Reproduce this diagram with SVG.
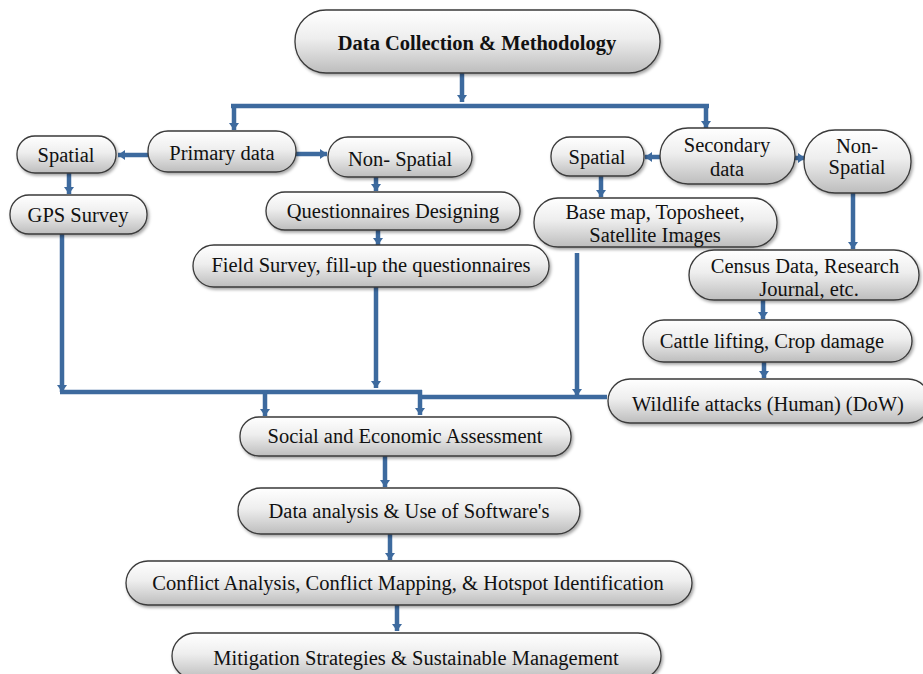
<svg xmlns="http://www.w3.org/2000/svg" width="923" height="674" viewBox="0 0 923 674">
<defs>
<linearGradient id="g" x1="0" y1="0" x2="0" y2="1">
<stop offset="0" stop-color="#ffffff"/>
<stop offset="0.45" stop-color="#eeeeee"/>
<stop offset="1" stop-color="#bdbdbd"/>
</linearGradient>
<filter id="sh" x="-10%" y="-20%" width="120%" height="150%">
<feDropShadow dx="1.5" dy="2" stdDeviation="1.5" flood-color="#000" flood-opacity="0.35"/>
</filter>
<marker id="ah" markerUnits="userSpaceOnUse" markerWidth="12" markerHeight="12" refX="7" refY="5" orient="auto">
<path d="M0,0 L7,5 L0,10 Z" fill="#3d6a9e"/>
</marker>
</defs>
<style>
.n rect{fill:url(#g);stroke:#3a3a3a;stroke-width:1.3;filter:url(#sh)}
.n text{font-size:20.5px;fill:#111;text-anchor:middle;dominant-baseline:central}
.c line,.c path{stroke:#3d6a9e;stroke-width:4.5;fill:none}
.a{marker-end:url(#ah)}
</style>
<rect width="923" height="674" fill="#ffffff"/>
<g class="c">
<line class="a" x1="462" y1="73" x2="462" y2="102"/>
<line x1="231" y1="106" x2="709" y2="106"/>
<line class="a" x1="234" y1="104" x2="234" y2="130"/>
<line class="a" x1="706" y1="104" x2="706" y2="128"/>
<line class="a" x1="148" y1="155" x2="118" y2="155"/>
<line class="a" x1="296" y1="154" x2="327" y2="154"/>
<line class="a" x1="69" y1="173" x2="69" y2="194"/>
<line class="a" x1="376" y1="177" x2="376" y2="191"/>
<line class="a" x1="378" y1="230" x2="378" y2="245"/>
<line class="a" x1="660" y1="157" x2="645" y2="157"/>
<line class="a" x1="795" y1="158" x2="805" y2="158"/>
<line class="a" x1="601" y1="176" x2="601" y2="197"/>
<line class="a" x1="853" y1="193" x2="853" y2="249"/>
<line class="a" x1="763" y1="300" x2="763" y2="319"/>
<line class="a" x1="764" y1="362" x2="764" y2="378"/>
<line class="a" x1="62" y1="234" x2="62" y2="392"/>
<line x1="60" y1="392" x2="422" y2="392"/>
<line class="a" x1="376" y1="287" x2="376" y2="388"/>
<line class="a" x1="577" y1="253" x2="577" y2="396"/>
<line x1="418" y1="397" x2="607" y2="397"/>
<line class="a" x1="265" y1="390" x2="265" y2="416"/>
<line class="a" x1="420" y1="390" x2="420" y2="415"/>
<line class="a" x1="385" y1="456" x2="385" y2="487"/>
<line class="a" x1="390" y1="534" x2="390" y2="560"/>
<line class="a" x1="397" y1="605" x2="397" y2="631"/>
</g>
<g font-family="Liberation Serif, Times New Roman, serif">
<g id="n-top" class="n"><rect x="295" y="10" width="365" height="63" rx="31"/><text x="477" y="43" font-weight="bold">Data Collection &amp; Methodology</text></g>
<g id="n-primary" class="n"><rect x="148" y="131" width="148" height="41" rx="20"/><text x="222" y="153">Primary data</text></g>
<g id="n-spatial1" class="n"><rect x="17" y="136" width="99" height="37" rx="18"/><text x="66" y="155">Spatial</text></g>
<g id="n-nonspatial1" class="n"><rect x="328" y="137" width="144" height="40" rx="20"/><text x="400" y="159">Non- Spatial</text></g>
<g id="n-gps" class="n"><rect x="10" y="195" width="137" height="39" rx="19"/><text x="78" y="215">GPS Survey</text></g>
<g id="n-quest" class="n"><rect x="266" y="192" width="254" height="38" rx="19"/><text x="393" y="211">Questionnaires Designing</text></g>
<g id="n-field" class="n"><rect x="193" y="245" width="356" height="42" rx="21"/><text x="371" y="265">Field Survey, fill-up the questionnaires</text></g>
<g id="n-secondary" class="n"><rect x="660" y="128" width="135" height="56" rx="28"/><text x="727" y="145">Secondary</text><text x="727" y="169">data</text></g>
<g id="n-spatial2" class="n"><rect x="551" y="137" width="93" height="39" rx="19"/><text x="597" y="157">Spatial</text></g>
<g id="n-nonspatial2" class="n"><rect x="804" y="130" width="107" height="63" rx="31"/><text x="857" y="146">Non-</text><text x="857" y="167">Spatial</text></g>
<g id="n-base" class="n"><rect x="534" y="198" width="243" height="49" rx="24"/><text x="655" y="212">Base map, Toposheet,</text><text x="655" y="235">Satellite Images</text></g>
<g id="n-census" class="n"><rect x="689" y="250" width="230" height="50" rx="25"/><text x="805" y="266">Census Data, Research</text><text x="809" y="289">Journal, etc.</text></g>
<g id="n-cattle" class="n"><rect x="643" y="320" width="269" height="42" rx="21"/><text x="772" y="341">Cattle lifting, Crop damage</text></g>
<g id="n-wildlife" class="n"><rect x="608" y="379" width="322" height="44" rx="22"/><text x="768" y="404">Wildlife attacks (Human) (DoW)</text></g>
<g id="n-social" class="n"><rect x="240" y="417" width="331" height="39" rx="19"/><text x="405" y="436">Social and Economic Assessment</text></g>
<g id="n-data" class="n"><rect x="238" y="488" width="342" height="46" rx="23"/><text x="409" y="511">Data analysis &amp; Use of Software's</text></g>
<g id="n-conflict" class="n"><rect x="126" y="561" width="566" height="44" rx="22"/><text x="408" y="583">Conflict Analysis, Conflict Mapping, &amp; Hotspot Identification</text></g>
<g id="n-mitigation" class="n"><rect x="172" y="633" width="489" height="46" rx="23"/><text x="416" y="658">Mitigation Strategies &amp; Sustainable Management</text></g>
</g>
</svg>
